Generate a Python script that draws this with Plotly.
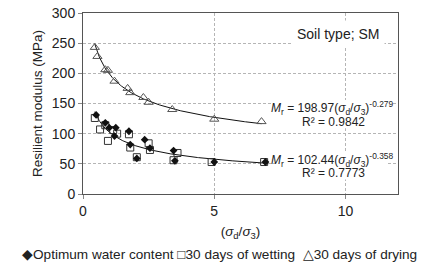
import numpy as np
import plotly.graph_objects as go

# Data
opt_x = [0.5, 0.85, 1.0, 1.2, 1.25, 1.75, 1.8, 2.05, 2.35, 2.55, 3.45, 3.5, 5.0, 6.95]
opt_y = [131, 118, 110, 96, 110, 104, 82, 59, 90, 76, 72, 55, 53, 53]

wet_x = [0.45, 0.65, 0.85, 0.95, 1.15, 1.3, 1.75, 1.8, 2.05, 2.5, 2.55, 3.6, 3.45, 4.9, 6.9]
wet_y = [126, 107, 114, 88, 106, 100, 99, 77, 61, 84, 73, 68, 56, 53, 53]

dry_x = [0.45, 0.55, 0.85, 0.95, 1.2, 1.7, 1.8, 2.3, 2.5, 3.4, 5.0, 6.8]
dry_y = [243, 228, 206, 205, 187, 175, 168, 160, 152, 140, 124, 120]

# Power-law trendlines (coefficients printed on the chart)
dry_a, dry_b = 198.97, -0.279
low_a, low_b = 102.44, -0.358

FONT = "Liberation Sans, Arial, sans-serif"
TXT = "#222222"

fig = go.Figure()

# trendlines
xd = np.linspace(min(dry_x), max(dry_x), 200)
fig.add_trace(go.Scatter(x=xd, y=dry_a * xd ** dry_b, mode="lines",
                         line=dict(color="#111111", width=1), showlegend=False, hoverinfo="skip"))
xl = np.linspace(min(min(opt_x), min(wet_x)), max(max(opt_x), max(wet_x)), 200)
fig.add_trace(go.Scatter(x=xl, y=low_a * xl ** low_b, mode="lines",
                         line=dict(color="#111111", width=1), showlegend=False, hoverinfo="skip"))

fig.add_trace(go.Scatter(x=dry_x, y=dry_y, mode="markers", name="30 days of drying",
                         marker=dict(symbol="triangle-up-open", size=8, color="#555555",
                                     line=dict(width=1)), showlegend=False))
fig.add_trace(go.Scatter(x=wet_x, y=wet_y, mode="markers", name="30 days of wetting",
                         marker=dict(symbol="square-open", size=7, color="#333333",
                                     line=dict(width=1)), showlegend=False))
fig.add_trace(go.Scatter(x=opt_x, y=opt_y, mode="markers", name="Optimum water content",
                         marker=dict(symbol="diamond", size=6, color="#111111"), showlegend=False))

# white label backgrounds (cover gridlines like the original)
fig.add_shape(type="rect", xref="x", yref="y", x0=7.27, x1=11.74, y0=109, y1=156,
              fillcolor="white", line=dict(width=0), layer="above")
fig.add_shape(type="rect", xref="x", yref="y", x0=7.35, x1=11.6, y0=24, y1=70,
              fillcolor="white", line=dict(width=0), layer="above")

fig.add_annotation(x=9.7, y=265, xref="x", yref="y", text="Soil type; SM", showarrow=False,
                   font=dict(family=FONT, size=14, color=TXT), bgcolor="white", borderpad=5)

eq_font = dict(family=FONT, size=12, color=TXT)
fig.add_annotation(x=9.5, y=143, xref="x", yref="y",
                   text="<i>M</i><sub>r</sub> = 198.97(<i>σ</i><sub>d</sub>/<i>σ</i><sub>3</sub>)<sup>-0.279</sup>",
                   showarrow=False, font=eq_font)
fig.add_annotation(x=9.55, y=120, xref="x", yref="y", text="R² = 0.9842",
                   showarrow=False, font=eq_font)
fig.add_annotation(x=9.47, y=57, xref="x", yref="y",
                   text="<i>M</i><sub>r</sub> = 102.44(<i>σ</i><sub>d</sub>/<i>σ</i><sub>3</sub>)<sup>-0.358</sup>",
                   showarrow=False, font=eq_font)
fig.add_annotation(x=9.55, y=34, xref="x", yref="y", text="R² = 0.7773",
                   showarrow=False, font=eq_font)

# legend as text line
fig.add_annotation(x=0.432, y=-0.337, xref="paper", yref="paper", yanchor="middle",
                   text="◆Optimum water content □30 days of wetting  △30 days of drying",
                   showarrow=False, font=dict(family=FONT, size=13.6, color=TXT))

fig.update_layout(
    width=428, height=272,
    margin=dict(l=83, r=30, t=13, b=78),
    paper_bgcolor="white", plot_bgcolor="white",
    font=dict(family=FONT, size=14, color=TXT),
    showlegend=False,
)
fig.update_xaxes(range=[0, 12], tickvals=[0, 5, 10], showgrid=True, gridcolor="#b5b5b5",
                 griddash="3px,2px", gridwidth=1, zeroline=False, showline=True, linecolor="#555555",
                 mirror=True, ticks="outside", ticklen=4, tickcolor="#888888", automargin=False,
                 title=dict(text="(<i>σ</i><sub>d</sub>/<i>σ</i><sub>3</sub>)", standoff=8,
                            font=dict(size=13.5)))
fig.update_yaxes(range=[0, 300], dtick=50, showgrid=True, gridcolor="#b5b5b5",
                 griddash="3px,2px", gridwidth=1, zeroline=False, showline=True, linecolor="#555555",
                 mirror=True, ticks="outside", ticklen=4, tickcolor="#888888", automargin=False,
                 title=dict(text="Resilient modulus (MPa)", standoff=6, font=dict(size=13.5)))

fig.write_html("out.html", config={"displayModeBar": False},
               post_script="document.body.style.margin='0';")
